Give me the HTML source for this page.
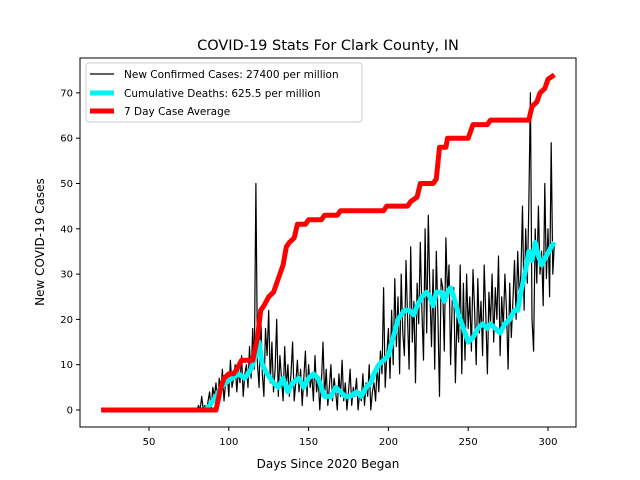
<!DOCTYPE html>
<html><head><meta charset="utf-8"><style>
body{margin:0;background:#fff;}
svg{display:block;font-family:"DejaVu Sans","Liberation Sans",sans-serif;}
</style></head><body>
<svg id="chart" width="640" height="480">
<rect x="0" y="0" width="640" height="480" fill="#fff"/>
<text x="328" y="50" text-anchor="middle" font-size="14.5">COVID-19 Stats For Clark County, IN</text>
<g id="plot"></g>
<rect x="80" y="58" width="496" height="369" fill="none" stroke="#000" stroke-width="1"/>
<g id="axes"></g>
<text x="328" y="468" text-anchor="middle" font-size="12">Days Since 2020 Began</text>
<text transform="translate(44,242) rotate(-90)" text-anchor="middle" font-size="12">New COVID-19 Cases</text>
<g>
<rect x="86" y="63" width="276" height="59" rx="3" fill="#fff" stroke="#ccc"/>
<line x1="90" y1="74" x2="114" y2="74" stroke="#000" stroke-width="1.2"/>
<text x="124" y="78" font-size="10.5">New Confirmed Cases: 27400 per million</text>
<line x1="90" y1="93" x2="114" y2="93" stroke="#00f5f5" stroke-width="5"/>
<text x="124" y="97" font-size="10.5">Cumulative Deaths: 625.5 per million</text>
<line x1="90" y1="111" x2="114" y2="111" stroke="#f00" stroke-width="5"/>
<text x="124" y="115" font-size="10.5">7 Day Case Average</text>
</g>
</svg>
<script>
const xTicks=[50,100,150,200,250,300];
const yTicks=[0,10,20,30,40,50,60,70];
const caseStart=80;
const caseValues=[0,1,0,3,0,1,0,2,4,0,5,3,6,1,7,4,9,2,6,8,3,11,5,7,10,4,9,6,12,3,8,10,5,14,7,18,9,
50,
10,5,22,8,3,18,12,22,6,15,4,9,20,3,12,7,2,14,5,10,3,8,15,2,6,11,4,9,1,7,13,3,10,5,8,2,12,4,7,0,6,15,3,9,1,5,10,2,7,4,0,8,3,11,2,6,0,4,9,1,5,3,7,0,4,2,8,1,6,3,10,0,4,
6,2,10,4,13,8,27,5,12,
18,7,22,10,29,14,25,8,30,17,12,33,20,9,36,15,24,6,28,19,37,22,11,40,17,43,26,14,31,9,35,21,3,29,27,13,38,25,32,10,24,27,6,21,15,32,8,28,11,30,18,
25,13,31,22,10,29,17,24,12,32,21,8,26,19,30,15,27,20,34,12,25,18,30,22,9,28,16,24,33,20,35,25,30,45,22,
40,28,45,70,20,13,40,28,45,30,35,23,50,29,40,25,59,30,37];
const deathDays=[85,88,92,95,98,102,106,110,114,117,119,121,124,128,131,134,137,140,144,147,150,153,156,158,160,164,167,170,173,176,180,183,186,189,191,194,197,200,203,206,210,213,216,218,221,224,226,228,230,233,235,237,239,241,244,247,250,253,256,259,262,264,267,270,273,276,279,281,283,286,288,290,292,294,296,299,302,304];
const deathValues=[0,1,3,5,6,7,8,7,9,12,15,10,8,6,5,7,4,6,7,5,7,8,7,5,3,3,5,4,3,3,4,3,5,6,8,10,11,12,16,20,22,22,21,23,25,26,25,23,26,26,24,26,27,25,21,18,15,16,18,19,18,19,18,17,19,20,22,22,26,31,35,33,37,34,32,34,36,37];
const avgDays=[20,92,95,97,100,103,105,108,115,118,120,122,125,128,130,132,134,136,138,141,143,148,150,158,160,168,170,197,199,212,214,218,220,228,230,232,236,237,250,253,262,264,288,290,293,295,298,300,304];
const avgValues=[0,0,5,7,8,8,9,11,11,16,22,23,25,26,28,30,32,36,37,38,41,41,42,42,43,43,44,44,45,45,46,47,50,50,51,58,58,60,60,63,63,64,64,67,68,70,71,73,74];

function X(d){return 69.2+d*1.596;}
function Y(v){return 410-v*4.53;}
const NS="http://www.w3.org/2000/svg";
const plot=document.getElementById('plot');
const axes=document.getElementById('axes');
function mk(tag,attrs,parent){const e=document.createElementNS(NS,tag);for(const k in attrs)e.setAttribute(k,attrs[k]);parent.appendChild(e);return e;}

let p1=caseValues.map((v,i)=>X(caseStart+i).toFixed(1)+','+Y(v).toFixed(1)).join(' ');
const cl=mk('polyline',{points:p1,fill:'none',stroke:'#000','stroke-width':1.2,'stroke-linejoin':'round'},plot);


let p2=deathDays.map((d,i)=>X(d).toFixed(1)+','+Y(deathValues[i]).toFixed(1)).join(' ');
const dl=mk('polyline',{points:p2,fill:'none',stroke:'#00f5f5','stroke-width':5,'stroke-linejoin':'round'},plot);


let p3=avgDays.map((d,i)=>X(d).toFixed(1)+','+Y(avgValues[i]).toFixed(1)).join(' ');
const al=mk('polyline',{points:p3,fill:'none',stroke:'#f00','stroke-width':5,'stroke-linejoin':'round'},plot);



xTicks.forEach(t=>{
  const l=mk('line',{x1:X(t),x2:X(t),y1:427,y2:431,stroke:'#000'},axes);
  
  
  const tx=mk('text',{x:X(t),y:445,'text-anchor':'middle','font-size':10},axes);
  tx.textContent=t;
  
  
});
yTicks.forEach(t=>{
  const l=mk('line',{x1:76,x2:80,y1:Y(t),y2:Y(t),stroke:'#000'},axes);
  
  
  const tx=mk('text',{x:73,y:Y(t)+3.5,'text-anchor':'end','font-size':10},axes);
  tx.textContent=t;
  
  
});
</script>
</body></html>
